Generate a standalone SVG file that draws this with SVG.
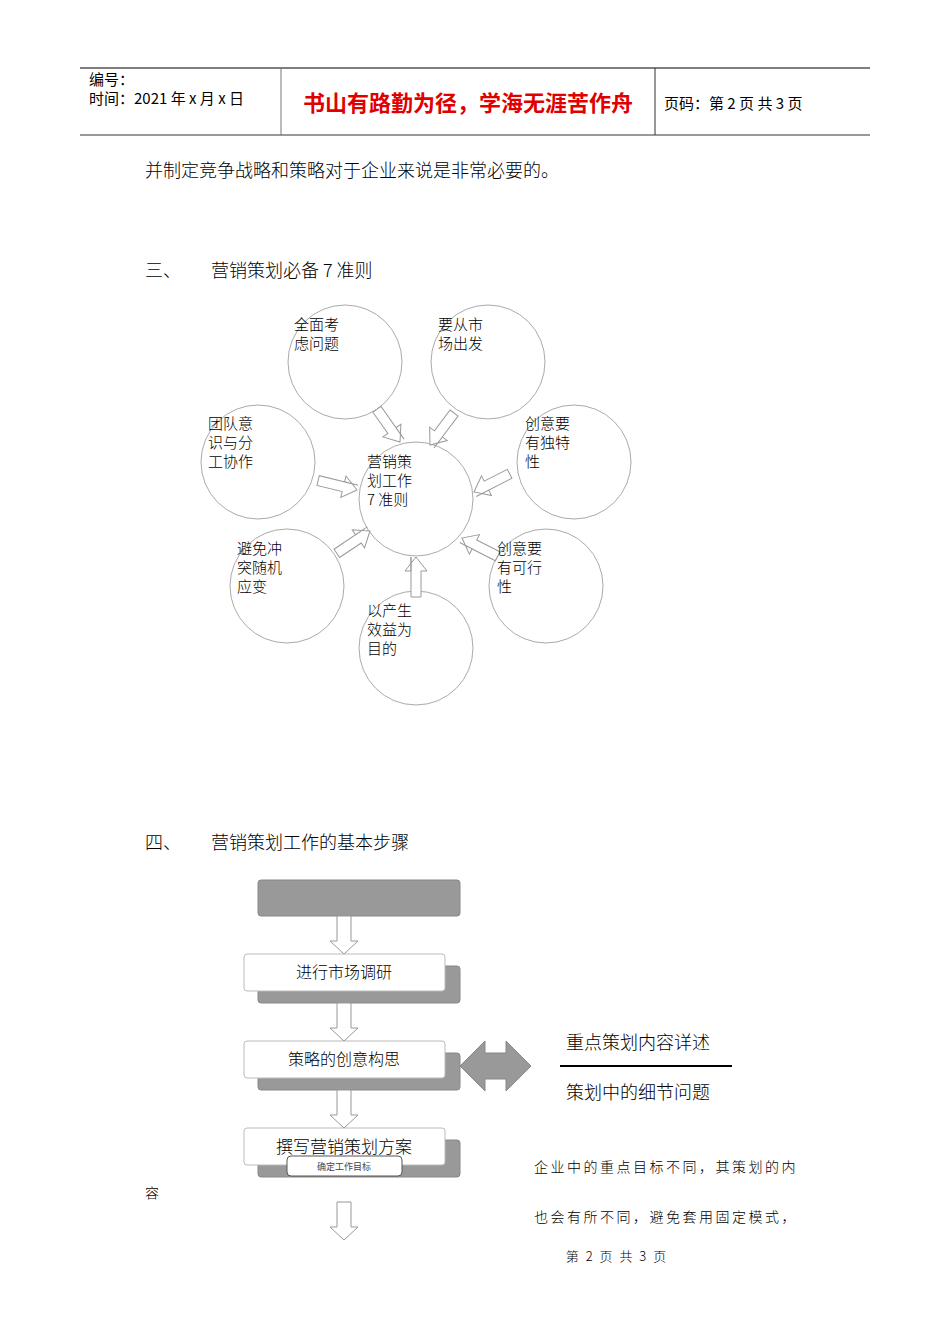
<svg xmlns="http://www.w3.org/2000/svg" width="950" height="1344" viewBox="0 0 950 1344">
<style>
.t{font-family:"Noto Sans CJK SC","Liberation Sans",sans-serif;fill:#000}
.s{font-family:"Noto Sans CJK SC","Liberation Serif",serif;fill:#000;font-weight:300}
.c{fill:#fff;stroke:#aaa;stroke-width:1}
.a{fill:#fff;stroke:#999;stroke-width:1}
.g{fill:#999;stroke:#888;stroke-width:1}
.w{fill:#fff;stroke:#bbb;stroke-width:1}
</style>
<defs>
<polygon id="ar" points="0,-5 -14,-5 -14,-11 0,0 -14,11 -14,5 -40,5 -40,-5" />
<polygon id="dn" points="0,0 -14,-13 -7,-13 -7,-38 7,-38 7,-13 14,-13" />
</defs>
<rect width="950" height="1344" fill="#fff"/>
<g id="header">
<line x1="80" y1="68" x2="870" y2="68" stroke="#555" stroke-width="1.5"/>
<line x1="80" y1="135" x2="870" y2="135" stroke="#777" stroke-width="1.5"/>
<line x1="281" y1="68" x2="281" y2="135" stroke="#777"/>
<line x1="655" y1="68" x2="655" y2="135" stroke="#333"/>
<text class="t" x="89" y="85" font-size="15">编号：</text>
<text class="t" x="89" y="104" font-size="15">时间：2021 年 x 月 x 日</text>
<text class="t" x="468" y="111" font-size="22" font-weight="bold" text-anchor="middle" style="fill:#e00000">书山有路勤为径，学海无涯苦作舟</text>
<text class="t" x="664" y="109" font-size="15">页码：第 2 页  共 3 页</text>
</g>
<text class="s" x="145" y="177" font-size="18">并制定竞争战略和策略对于企业来说是非常必要的。</text>
<text class="s" x="145" y="277" font-size="18">三、</text>
<text class="s" x="211" y="277" font-size="18">营销策划必备 7 准则</text>
<g id="circles">
<circle class="c" cx="345" cy="362" r="57"/>
<circle class="c" cx="488" cy="362" r="57"/>
<circle class="c" cx="258" cy="462" r="57"/>
<circle class="c" cx="574" cy="462" r="57"/>
<circle class="c" cx="287" cy="586" r="57"/>
<circle class="c" cx="546" cy="586" r="57"/>
<circle class="c" cx="416" cy="648" r="57"/>
<circle class="c" cx="416" cy="499" r="57"/>
</g>
<g id="connectors">
<use href="#ar" class="a" transform="translate(400,442) rotate(54.8)"/>
<use href="#ar" class="a" transform="translate(430,445) rotate(127)"/>
<use href="#ar" class="a" transform="translate(357,490) rotate(13.7)"/>
<use href="#ar" class="a" transform="translate(474,492) rotate(153)"/>
<use href="#ar" class="a" transform="translate(370,531) rotate(-34)"/>
<use href="#ar" class="a" transform="translate(462,538) rotate(-152.8)"/>
<use href="#ar" class="a" transform="translate(416,557) rotate(-90)"/>
</g>
<g class="s" font-size="15">
<text x="294" y="330">全面考</text><text x="294" y="349">虑问题</text>
<text x="438" y="330">要从市</text><text x="438" y="349">场出发</text>
<text x="208" y="429">团队意</text><text x="208" y="448">识与分</text><text x="208" y="467">工协作</text>
<text x="525" y="429">创意要</text><text x="525" y="448">有独特</text><text x="525" y="467">性</text>
<text x="367" y="467">营销策</text><text x="367" y="486">划工作</text><text x="367" y="505">7 准则</text>
<text x="237" y="554">避免冲</text><text x="237" y="573">突随机</text><text x="237" y="592">应变</text>
<text x="497" y="554">创意要</text><text x="497" y="573">有可行</text><text x="497" y="592">性</text>
<text x="367" y="616">以产生</text><text x="367" y="635">效益为</text><text x="367" y="654">目的</text>
</g>
<text class="s" x="145" y="849" font-size="18">四、</text>
<text class="s" x="211" y="849" font-size="18">营销策划工作的基本步骤</text>
<g id="flow">
<rect class="g" x="258" y="880" width="202" height="36" rx="3"/>
<rect class="g" x="258" y="966" width="202" height="37" rx="3"/>
<rect class="w" x="244" y="954" width="201" height="37" rx="3"/>
<text class="s" x="344" y="978" font-size="16" text-anchor="middle">进行市场调研</text>
<rect class="g" x="258" y="1053" width="202" height="37" rx="3"/>
<rect class="w" x="244" y="1041" width="201" height="37" rx="3"/>
<text class="s" x="344" y="1065" font-size="16" text-anchor="middle">策略的创意构思</text>
<rect class="g" x="258" y="1140" width="202" height="37" rx="3"/>
<rect class="w" x="244" y="1128" width="201" height="37" rx="3"/>
<text class="s" x="344" y="1153" font-size="17" text-anchor="middle">撰写营销策划方案</text>
<rect x="287" y="1156" width="115" height="20" rx="4" fill="#fff" stroke="#555"/>
<text class="t" x="344" y="1170" font-size="9" text-anchor="middle" style="fill:#444">确定工作目标</text>
</g>
<g id="flow-connectors">
<use href="#dn" class="a" transform="translate(344,954)"/>
<use href="#dn" class="a" transform="translate(344,1041)"/>
<use href="#dn" class="a" transform="translate(344,1128)"/>
<use href="#dn" class="a" transform="translate(344,1240)"/>
<polygon class="g" points="460,1066 485,1041 485,1053 506,1053 506,1041 531,1066 506,1091 506,1079 485,1079 485,1091"/>
</g>
<text class="s" x="566" y="1049" font-size="18">重点策划内容详述</text>
<line x1="560" y1="1066" x2="732" y2="1066" stroke="#000" stroke-width="2"/>
<text class="s" x="566" y="1099" font-size="18">策划中的细节问题</text>
<text class="s" x="534" y="1172" font-size="14" letter-spacing="2.5">企业中的重点目标不同，其策划的内</text>
<text class="s" x="145" y="1198" font-size="14">容</text>
<text class="s" x="534" y="1222" font-size="14" letter-spacing="2.5">也会有所不同，避免套用固定模式，</text>
<text class="s" x="617" y="1261" font-size="13" text-anchor="middle" letter-spacing="2">第 2 页 共 3 页</text>
</svg>
